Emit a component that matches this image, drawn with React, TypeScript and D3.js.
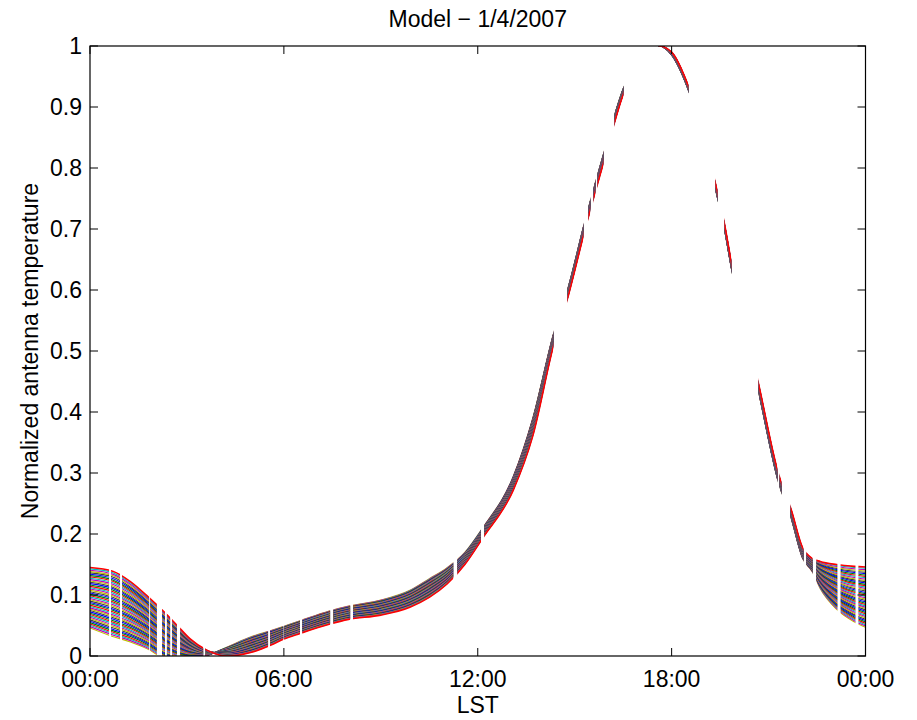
import React, { useEffect } from "react";
import * as d3 from "d3";

// ---- data ----
const knotHours = [0, 0.7, 1.25, 1.8, 2.3, 2.7, 3.1, 3.6, 4.25, 5.0, 5.6, 6.0, 6.5, 7.4, 8.0, 9.0, 9.9, 10.5, 11.05, 11.6, 12.15, 13.1, 13.7, 14.35, 14.8, 15.3, 15.9, 16.5, 17.0, 17.6, 18.0, 18.5, 19.4, 19.63, 19.85, 20.7, 21.3, 21.7, 22.05, 22.35, 22.6, 23.1, 23.65, 24];

// edge curve drawn in red (near edge of the band)
const redCurve = [0.145, 0.139, 0.122, 0.097, 0.072, 0.05, 0.028, 0.01, 0.0, 0.006, 0.018, 0.028, 0.037, 0.052, 0.06, 0.067, 0.08, 0.096, 0.118, 0.15, 0.193, 0.272, 0.36, 0.51, 0.59, 0.695, 0.81, 0.92, 0.975, 1.0, 0.99, 0.937, 0.765, 0.71, 0.645, 0.444, 0.3, 0.24, 0.178, 0.16, 0.155, 0.15, 0.147, 0.146];

// opposite edge of the band of model curves
const farCurve = [0.045, 0.031, 0.022, 0.01, -0.005, -0.01, -0.008, 0.0, 0.015, 0.032, 0.042, 0.049, 0.058, 0.074, 0.082, 0.092, 0.108, 0.127, 0.145, 0.17, 0.21, 0.295, 0.39, 0.53, 0.605, 0.71, 0.825, 0.93, 0.98, 1.0, 0.985, 0.93, 0.755, 0.7, 0.635, 0.43, 0.285, 0.225, 0.16, 0.138, 0.11, 0.076, 0.055, 0.046];

// LST windows (hours) in which the model curves are drawn
const visibleWindows: [number, number][] = [
  [0, 0.59], [0.65, 0.93], [0.99, 1.83], [1.86, 2.07], [2.23, 2.32], [2.38, 2.48], [2.54, 2.69],
  [2.79, 3.5], [3.56, 5.51], [5.57, 5.98], [6.01, 6.5], [6.57, 7.43], [7.53, 8.05], [8.14, 11.24],
  [11.37, 12.1], [12.2, 14.34], [14.77, 15.27], [15.42, 15.48], [15.58, 15.64], [15.7, 15.89],
  [16.23, 16.51], [17.6, 18.52], [19.35, 19.42], [19.63, 19.85], [20.69, 21.27], [21.34, 21.4],
  [21.68, 22.08], [22.17, 22.36], [22.48, 23.13], [23.23, 23.69], [23.78, 24],
];

// positions of the individual model curves across the band (0 = red edge, 1 = far edge)
const bandPositions = [0, 0.022, 0.044, 0.066, 0.088, 0.11, 0.132, 0.154, 0.176, 0.198, 0.22, 0.242, 0.264, 0.286, 0.308, 0.33, 0.352, 0.374, 0.396, 0.418, 0.44, 0.462, 0.484, 0.506, 0.528, 0.55, 0.572, 0.594, 0.616, 0.638, 0.66, 0.682, 0.704, 0.726, 0.748, 0.77, 0.792, 0.814, 0.836, 0.858, 0.88, 0.902, 0.924, 0.946, 0.968, 0.99];

const lineColors = ["#ff0000", "#00bfbf", "#bf00bf", "#bfbf00", "#404040", "#0000ff", "#008000"];

const xTickHours = [0, 6, 12, 18, 24];
const xTickLabels = ["00:00", "06:00", "12:00", "18:00", "00:00"];
const yTicks = [0, 0.1, 0.2, 0.3, 0.4, 0.5, 0.6, 0.7, 0.8, 0.9, 1];
const yTickLabels = ["0", "0.1", "0.2", "0.3", "0.4", "0.5", "0.6", "0.7", "0.8", "0.9", "1"];

const titleText = "Model \u2212 1/4/2007";
const xLabelText = "LST";
const yLabelText = "Normalized antenna temperature";

// ---- layout ----
const W = 917;
const H = 720;
const L = 90;
const R = 865.5;
const T = 46;
const B = 656;
const FS = 23;
const FONT = "'Liberation Sans', Arial, Helvetica, sans-serif";

export default function App() {
  useEffect(() => {
    document.body.style.margin = "0";
  }, []);

  const x = d3.scaleLinear().domain([0, 24]).range([L, R]);
  const y = d3.scaleLinear().domain([0, 1]).range([B, T]);

  const line = d3
    .line<[number, number]>()
    .x((d) => x(d[0]))
    .y((d) => y(d[1]))
    .curve(d3.curveMonotoneX);

  const curves = bandPositions
    .map((f, k) => {
      const pts: [number, number][] = knotHours.map((h, i) => [h, redCurve[i] + f * (farCurve[i] - redCurve[i])]);
      return { k, f, d: line(pts) || "", color: lineColors[k % lineColors.length] };
    })
    .reverse();

  const tick = 8;

  return (
    <svg width={W} height={H} style={{ display: "block", background: "#fff" }} fontFamily={FONT}>
      <defs>
        <clipPath id="windows">
          {visibleWindows.map(([a, b], i) => (
            <rect key={i} x={x(a)} y={T} width={x(b) - x(a)} height={B - T} />
          ))}
        </clipPath>
      </defs>

      <g clipPath="url(#windows)">
        {curves.map((c) => (
          <path key={c.k} d={c.d} fill="none" stroke={c.color} strokeWidth={c.f === 0 ? 1.6 : 1.1} />
        ))}
      </g>

      {/* axes box */}
      <rect x={L} y={T} width={R - L} height={B - T} fill="none" stroke="#000" strokeWidth={1.2} />

      {/* x ticks */}
      {xTickHours.map((h, i) => (
        <g key={"xt" + i}>
          <line x1={x(h)} x2={x(h)} y1={B} y2={B - tick} stroke="#000" strokeWidth={1} />
          <line x1={x(h)} x2={x(h)} y1={T} y2={T + tick} stroke="#000" strokeWidth={1} />
          <text x={x(h)} y={687} textAnchor="middle" fontSize={FS} fill="#000">
            {xTickLabels[i]}
          </text>
        </g>
      ))}

      {/* y ticks */}
      {yTicks.map((v, i) => (
        <g key={"yt" + i}>
          <line x1={L} x2={L + tick} y1={y(v)} y2={y(v)} stroke="#000" strokeWidth={1} />
          <line x1={R} x2={R - tick} y1={y(v)} y2={y(v)} stroke="#000" strokeWidth={1} />
          <text x={82} y={y(v) + 8} textAnchor="end" fontSize={FS} fill="#000">
            {yTickLabels[i]}
          </text>
        </g>
      ))}

      <text x={(L + R) / 2} y={27} textAnchor="middle" fontSize={FS} fill="#000">
        {titleText}
      </text>
      <text x={(L + R) / 2} y={713} textAnchor="middle" fontSize={FS} fill="#000">
        {xLabelText}
      </text>
      <text
        transform={`translate(38,${(T + B) / 2}) rotate(-90)`}
        textAnchor="middle"
        fontSize={FS}
        fill="#000"
      >
        {yLabelText}
      </text>
    </svg>
  );
}
